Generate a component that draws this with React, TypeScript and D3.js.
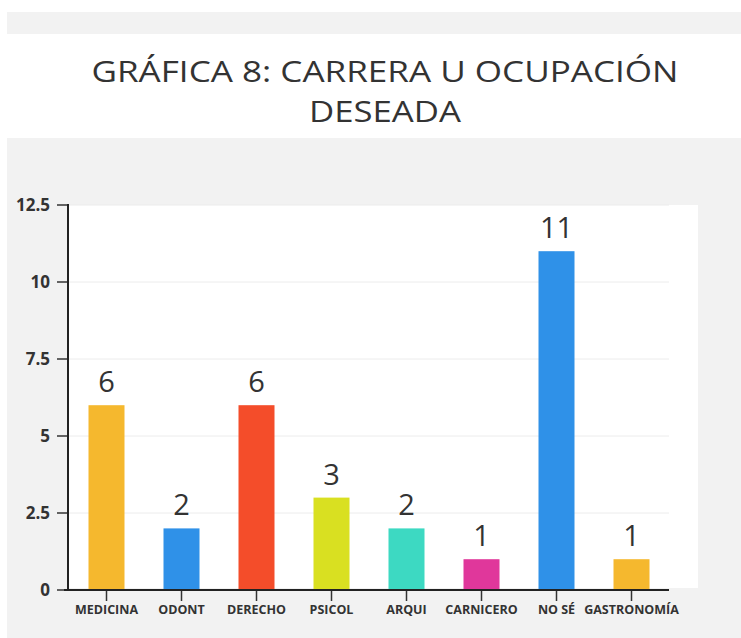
import React from "react";
import * as d3 from "d3";

const categories = ["MEDICINA", "ODONT", "DERECHO", "PSICOL", "ARQUI", "CARNICERO", "NO SÉ", "GASTRONOMÍA"];
const values = [6, 2, 6, 3, 2, 1, 11, 1];
const barColors = ["#F5B82E", "#2F91E8", "#F44D2A", "#D9E021", "#3DD9C2", "#E0379B", "#2F91E8", "#F5B82E"];
const yTicks = [0, 2.5, 5, 7.5, 10, 12.5];
const titleLines = ["GRÁFICA 8: CARRERA U OCUPACIÓN", "DESEADA"];
const titleWidths = [587, 152];

const W = 741;
const H = 638;

export default function App() {
  const x = d3.scaleBand<string>().domain(categories).range([69, 669]).paddingInner(0.52).paddingOuter(0.26);
  const y = d3.scaleLinear().domain([0, 12.5]).range([590, 205]);
  const font = "'Open Sans', 'Noto Sans', sans-serif";

  return (
    <svg width={W} height={H} style={{ position: "absolute", left: 0, top: 0, display: "block" }}>
      <rect x={0} y={0} width={W} height={H} fill="#ffffff" />
      <rect x={7} y={12} width={W - 7} height={H - 12} fill="#f2f2f2" />
      <rect x={7} y={34} width={W - 7} height={104} fill="#ffffff" />
      {titleLines.map((t, i) => (
        <text
          key={t}
          x={385}
          y={82 + i * 40}
          textAnchor="middle"
          fontFamily={font}
          fontSize={29.5}
          fontWeight={400}
          fill="#333"
          textLength={titleWidths[i]}
          lengthAdjust="spacingAndGlyphs"
        >
          {t}
        </text>
      ))}
      <rect x={68} y={205} width={630} height={383} fill="#ffffff" />
      {yTicks.slice(1).map((t) => (
        <line key={"g" + t} x1={68} x2={669} y1={y(t)} y2={y(t)} stroke="#ececec" strokeWidth={1} />
      ))}
      {categories.map((c, i) => (
        <g key={c}>
          <rect x={x(c)} y={y(values[i])} width={x.bandwidth()} height={y(0) - y(values[i])} fill={barColors[i]} />
          <text
            x={(x(c) as number) + x.bandwidth() / 2}
            y={y(values[i]) - 13}
            textAnchor="middle"
            fontFamily={font}
            fontSize={29}
            fontWeight={400}
            fill="#333"
          >
            {values[i]}
          </text>
          <line
            x1={(x(c) as number) + x.bandwidth() / 2}
            x2={(x(c) as number) + x.bandwidth() / 2}
            y1={590}
            y2={601}
            stroke="#333"
            strokeWidth={1.5}
          />
          <text
            x={(x(c) as number) + x.bandwidth() / 2}
            y={614}
            textAnchor="middle"
            fontFamily={font}
            fontSize={12.5}
            fontWeight={700}
            fill="#333"
          >
            {c}
          </text>
        </g>
      ))}
      {yTicks.map((t) => (
        <g key={"y" + t}>
          <line x1={57} x2={68} y1={y(t)} y2={y(t)} stroke="#333" strokeWidth={1.5} />
          <text x={50} y={y(t) + 6} textAnchor="end" fontFamily={font} fontSize={17} fontWeight={700} fill="#333">
            {t}
          </text>
        </g>
      ))}
      <line x1={68} x2={68} y1={204} y2={591} stroke="#222" strokeWidth={2} />
      <line x1={64} x2={669} y1={590} y2={590} stroke="#222" strokeWidth={2} />
    </svg>
  );
}
